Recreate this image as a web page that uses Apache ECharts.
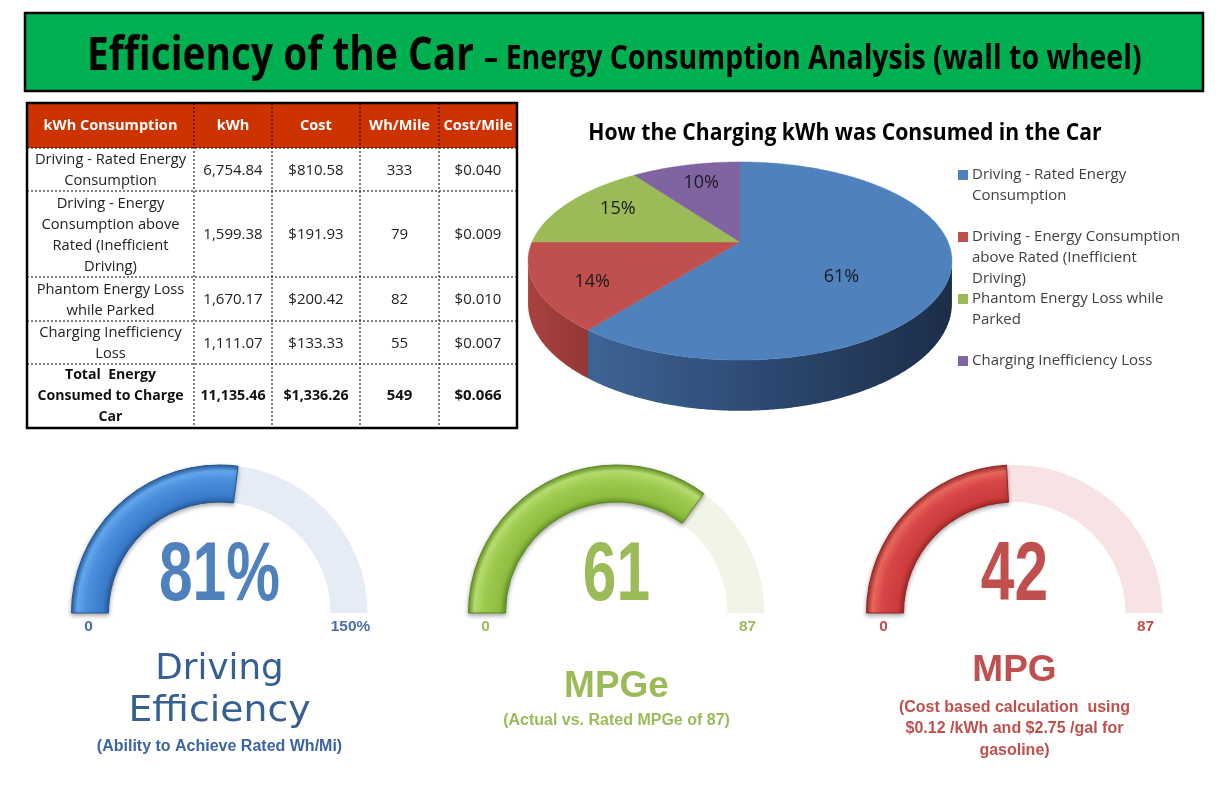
<!DOCTYPE html>
<html>
<head>
<meta charset="utf-8">
<script src="https://cdn.jsdelivr.net/npm/echarts@6/dist/echarts.min.js"></script>
<style>
  html, body { margin: 0; padding: 0; background: #fff; }
  #main { width: 1221px; height: 799px; }
</style>
</head>
<body>
<div id="main"></div>
<script>
// ---- data ----
const tableHeaders = ['kWh Consumption', 'kWh', 'Cost', 'Wh/Mile', 'Cost/Mile'];
const rowLabels = [
  'Driving - Rated Energy\nConsumption',
  'Driving - Energy\nConsumption above\nRated (Inefficient\nDriving)',
  'Phantom Energy Loss\nwhile Parked',
  'Charging Inefficiency\nLoss',
];
const totalLabel = 'Total  Energy\nConsumed to Charge\nCar';
const kwhValues = [6754.84, 1599.38, 1670.17, 1111.07];
const costValues = [810.58, 191.93, 200.42, 133.33];
const whPerMile = [333, 79, 82, 55];
const costPerMile = [0.040, 0.009, 0.010, 0.007];
const totalValues = [11135.46, 1336.26, 549, 0.066];

const pieTitle = 'How the Charging kWh was Consumed in the Car';
const legendLabels = [
  'Driving - Rated Energy\nConsumption',
  'Driving - Energy Consumption\nabove Rated (Inefficient\nDriving)',
  'Phantom Energy Loss while\nParked',
  'Charging Inefficiency Loss',
];
const sliceColors = ['#4f81bd', '#c0504d', '#9bbb59', '#8064a2'];

const gaugeValues = [81, 61, 42];
const gaugeMax = [150, 87, 87];
const gaugeValueText = ['81%', '61', '42'];
const gaugeMinLabels = ['0', '0', '0'];
const gaugeMaxLabels = ['150%', '87', '87'];

// ---- layout / style ----
const CAL = "'Open Sans', 'Noto Sans', sans-serif";
const ARIAL = "'Liberation Sans', Arial, sans-serif";
const colEdges = [27, 194, 272, 360, 439, 517];
const rowEdges = [103, 148, 191, 277, 321, 364, 428];
const gaugeCx = [219.5, 616.5, 1014.5];
const gaugeCy = 613;
// tilted pie with a bit of perspective (c = perspective strength)
const pie = { cx: 740, cy: 242, a: 208, b: 95.4, c: 0.192, depth: 41 };
// where each percentage label sits inside its slice (Excel "best fit" look)
const labelRadius = [0.5, 0.74, 0.7, 0.68];
const labelShift = [19, 7, -4, -4];

const fmtNum = (v) => v.toLocaleString('en-US', { minimumFractionDigits: 2, maximumFractionDigits: 2 });

function txt(x, y, text, font, fill, opt = {}) {
  const align = opt.align || 'center';
  return {
    type: 'text', x, y, scaleX: opt.sx || 1, z: 20,
    style: {
      text, font, fill,
      align, textAlign: align,
      verticalAlign: 'middle', textVerticalAlign: 'middle',
      lineHeight: opt.lh,
    },
  };
}

function line(x1, y1, x2, y2, dash) {
  return {
    type: 'line', z: 15,
    shape: { x1, y1, x2, y2 },
    style: { stroke: '#000', lineWidth: 1, lineDash: dash ? [2, 2] : null },
  };
}

const graphics = [];

// title banner
graphics.push({
  type: 'rect', z: 1,
  shape: { x: 25, y: 13, width: 1178, height: 78 },
  style: { fill: '#00b050', stroke: '#000', lineWidth: 2.5 },
});
graphics.push(txt(87, 57, 'Efficiency of the Car', 'bold 46px ' + CAL, '#000', { align: 'left', sx: 0.845 }));
graphics.push(txt(484, 59, '– Energy Consumption Analysis (wall to wheel)', 'bold 34px ' + CAL, '#000', { align: 'left', sx: 0.838 }));

// table
graphics.push({
  type: 'rect', z: 5,
  shape: { x: colEdges[0], y: rowEdges[0], width: colEdges[5] - colEdges[0], height: rowEdges[1] - rowEdges[0] },
  style: { fill: '#cc3300' },
});
for (let c = 1; c < colEdges.length - 1; c++) {
  graphics.push(line(colEdges[c], rowEdges[0], colEdges[c], rowEdges[6], true));
}
for (let r = 1; r < rowEdges.length - 1; r++) {
  graphics.push(line(colEdges[0], rowEdges[r], colEdges[5], rowEdges[r], true));
}
graphics.push({
  type: 'rect', z: 16,
  shape: { x: colEdges[0], y: rowEdges[0], width: colEdges[5] - colEdges[0], height: rowEdges[6] - rowEdges[0] },
  style: { fill: 'none', stroke: '#000', lineWidth: 2.5 },
});
const colMid = (c) => (colEdges[c] + colEdges[c + 1]) / 2;
const rowMid = (r) => (rowEdges[r] + rowEdges[r + 1]) / 2;
tableHeaders.forEach((h, c) => {
  graphics.push(txt(colMid(c), rowMid(0), h, 'bold 15px ' + CAL, '#fff', { sx: 0.97 }));
});
rowLabels.forEach((label, i) => {
  const y = rowMid(i + 1) + 1;
  const f = '15px ' + CAL;
  graphics.push(txt(colMid(0), y, label, f, '#222', { lh: 21, sx: 0.98 }));
  graphics.push(txt(colMid(1), y, fmtNum(kwhValues[i]), f, '#222'));
  graphics.push(txt(colMid(2), y, '$' + fmtNum(costValues[i]), f, '#222'));
  graphics.push(txt(colMid(3), y, String(whPerMile[i]), f, '#222'));
  graphics.push(txt(colMid(4), y, '$' + costPerMile[i].toFixed(3), f, '#222'));
});
{
  const y = rowMid(5);
  const f = 'bold 15px ' + CAL;
  graphics.push(txt(colMid(0), y, totalLabel, f, '#111', { lh: 21, sx: 0.94 }));
  graphics.push(txt(colMid(1), y, fmtNum(totalValues[0]), f, '#111', { sx: 0.95 }));
  graphics.push(txt(colMid(2), y, '$' + fmtNum(totalValues[1]), f, '#111', { sx: 0.95 }));
  graphics.push(txt(colMid(3), y, String(totalValues[2]), f, '#111'));
  graphics.push(txt(colMid(4), y, '$' + totalValues[3].toFixed(3), f, '#111'));
}

// pie title + legend
graphics.push(txt(845, 133, pieTitle, 'bold 23px ' + CAL, '#000', { sx: 0.92 }));
legendLabels.forEach((label, i) => {
  const y = 175 + i * 62;
  graphics.push({
    type: 'rect', z: 20,
    shape: { x: 958, y: y - 5, width: 10, height: 10 },
    style: { fill: sliceColors[i] },
  });
  graphics.push({
    type: 'text', x: 972, y: y - 10.5, z: 20,
    style: {
      text: label, font: '15px ' + CAL, fill: '#404040',
      align: 'left', textAlign: 'left', verticalAlign: 'top', textVerticalAlign: 'top', lineHeight: 20.7,
    },
  });
});

// gauge texts
const gaugeTextColor = ['#4f81bd', '#9bbb59', '#c0504d'];
const gaugeLabelColor = ['#4a6fa8', '#9bbb59', '#c0504d'];
gaugeValueText.forEach((t, i) => {
  graphics.push(txt(gaugeCx[i], 577, t, 'bold 84px ' + ARIAL, gaugeTextColor[i], { sx: 0.72 }));
  graphics.push(txt(gaugeCx[i] - 131, 627, gaugeMinLabels[i], 'bold 14px ' + ARIAL, gaugeLabelColor[i], { sx: 1.1 }));
  graphics.push(txt(gaugeCx[i] + 131, 627, gaugeMaxLabels[i], 'bold 14px ' + ARIAL, gaugeLabelColor[i], { sx: 1.1 }));
});
graphics.push(txt(gaugeCx[0], 670, 'Driving', '35px ' + "'DejaVu Sans', sans-serif", '#376092', { sx: 1.02 }));
graphics.push(txt(gaugeCx[0], 712, 'Efficiency', '35px ' + "'DejaVu Sans', sans-serif", '#376092', { sx: 1.08 }));
graphics.push(txt(gaugeCx[0], 747, '(Ability to Achieve Rated Wh/Mi)', 'bold 16px ' + ARIAL, '#3c64a0'));
graphics.push(txt(gaugeCx[1], 687, 'MPGe', 'bold 37px ' + ARIAL, '#9bbb59'));
graphics.push(txt(gaugeCx[1], 721, '(Actual vs. Rated MPGe of 87)', 'bold 16px ' + ARIAL, '#9bbb59'));
graphics.push(txt(gaugeCx[2], 671, 'MPG', 'bold 37px ' + ARIAL, '#c0504d'));
graphics.push(txt(gaugeCx[2], 729, '(Cost based calculation  using\n$0.12 /kWh and $2.75 /gal for\ngasoline)', 'bold 16px ' + ARIAL, '#c0504d', { lh: 21.5 }));

// ---- pie (tilted, drawn with a custom series) ----
const kwhTotal = kwhValues.reduce((a, b) => a + b, 0);
// f: fraction of radius, down: extra vertical offset before perspective
function piePoint(deg, f, down) {
  const t = deg * Math.PI / 180;
  const u = f * Math.sin(t), v = f * Math.cos(t);
  const k = 1 / (1 + pie.c * v);
  return [pie.cx + pie.a * u * k, pie.cy + (-pie.b * v + (down || 0)) * k];
}
function arc(a1, a2, down) {
  const pts = [];
  const n = Math.max(2, Math.ceil(Math.abs(a2 - a1) * 2));
  for (let k = 0; k <= n; k++) pts.push(piePoint(a1 + (a2 - a1) * k / n, 1, down));
  return pts;
}
const sideFrom = Math.acos(-pie.c) * 180 / Math.PI;
const sideTo = 360 - sideFrom;
const sideColors = [
  ['#3e6495', '#2c4870', '#1c2d47'],
  ['#a8423f', '#9e3c3a', '#943735'],
  ['#7d9a45', '#6d873c', '#5f7634'],
  ['#65508a', '#574579', '#4a3b68'],
];

function renderSlice(params, api) {
  const i = params.dataIndex;
  const before = kwhValues.slice(0, i).reduce((a, b) => a + b, 0);
  const start = before / kwhTotal * 360;
  const end = start + api.value(0) / kwhTotal * 360;
  const children = [];
  const lo = Math.max(start, sideFrom), hi = Math.min(end, sideTo);
  if (lo < hi) {
    const pts = arc(lo, hi, 0).concat(arc(hi, lo, pie.depth));
    children.push({
      type: 'polygon', shape: { points: pts },
      style: {
        fill: new echarts.graphic.LinearGradient(0, 0, 1, 0, sideColors[i].map((c, k) => ({ offset: k / 2, color: c }))),
      },
    });
  }
  children.push({
    type: 'polygon',
    shape: { points: [[pie.cx, pie.cy]].concat(arc(start, end, 0)) },
    style: { fill: sliceColors[i], stroke: sliceColors[i], lineWidth: 0.5 },
  });
  const lp = piePoint((start + end) / 2, labelRadius[i], 0);
  children.push({
    type: 'text', x: lp[0], y: lp[1] + labelShift[i],
    style: {
      text: Math.round(api.value(0) / kwhTotal * 100) + '%',
      font: '18px ' + CAL, fill: '#1a1a1a',
      align: 'center', textAlign: 'center', verticalAlign: 'middle', textVerticalAlign: 'middle',
    },
  });
  return { type: 'group', children };
}

// ---- gauges ----
const gaugeStops = [
  ['#2a5fa3', '#3a7bcb', '#4a8fdc', '#62a6ec', '#2c64ab'],
  ['#6a9a28', '#8dbd3e', '#9fcb50', '#b6dc6e', '#6e9c2c'],
  ['#a32b2b', '#cc3b3b', '#d84747', '#e8675b', '#a83030'],
];
const gaugeBorder = ['#24568f', '#5f8a22', '#8f2626'];
const trackColors = ['#e6ecf6', '#f1f5e7', '#f7e3e4'];

const gaugeSeries = gaugeValues.map((v, i) => ({
  type: 'gauge',
  center: [gaugeCx[i], gaugeCy],
  radius: 148,
  startAngle: 180,
  endAngle: 0,
  min: 0,
  max: gaugeMax[i],
  splitNumber: 1,
  z: 5,
  pointer: { show: false },
  anchor: { show: false },
  axisTick: { show: false },
  splitLine: { show: false },
  axisLabel: { show: false },
  title: { show: false },
  detail: { show: false },
  axisLine: { lineStyle: { width: 37, color: [[1, trackColors[i]]] } },
  progress: {
    show: true,
    width: 37,
    itemStyle: {
      color: new echarts.graphic.RadialGradient(gaugeCx[i], gaugeCy, 148, [
        { offset: 0.75, color: gaugeStops[i][0] },
        { offset: 0.79, color: gaugeStops[i][1] },
        { offset: 0.9, color: gaugeStops[i][2] },
        { offset: 0.96, color: gaugeStops[i][3] },
        { offset: 1, color: gaugeStops[i][4] },
      ], true),
      borderColor: gaugeBorder[i],
      borderWidth: 1,
      shadowBlur: 4,
      shadowColor: 'rgba(0,0,0,0.35)',
      shadowOffsetY: 2,
    },
  },
  data: [{ value: v }],
}));

const chart = echarts.init(document.getElementById('main'), null, { renderer: 'canvas' });
chart.setOption({
  animation: false,
  backgroundColor: '#fff',
  graphic: { elements: graphics },
  series: [
    {
      type: 'custom',
      name: 'kWh',
      coordinateSystem: 'none',
      renderItem: renderSlice,
      data: kwhValues,
      z: 3,
    },
    ...gaugeSeries,
  ],
});
</script>
</body>
</html>
